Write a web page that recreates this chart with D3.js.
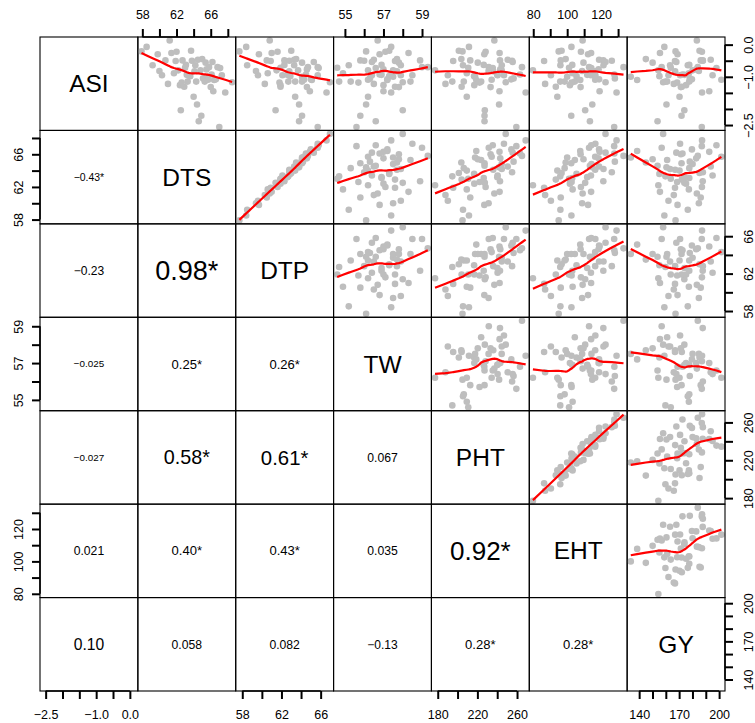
<!DOCTYPE html>
<html>
<head>
<meta charset="utf-8">
<script src="https://cdn.jsdelivr.net/npm/d3@7"></script>
<style>
  body { margin: 0; background: #fff; }
  svg { display: block; font-family: "Liberation Sans", Arial, Helvetica, sans-serif; }
</style>
</head>
<body>
<div class="container"></div>
<script>
// variable names (diagonal)
const varNames = ["ASI", "DTS", "DTP", "TW", "PHT", "EHT", "GY"];

// observations, one value per genotype
const asi = [-0.21, -0.07, -0.64, -0.30, -0.95, -0.49, -1.22, -0.26, -0.89, -0.22, -0.80, -2.04, -0.49, -1.31, -0.63, -1.15, -0.95, -0.98, -0.50, -1.62, -0.83, -1.15, -0.47, -2.38, -0.80, -0.45, -1.05, -1.15, -0.77, -1.00, -0.70, -1.32, -0.54, -1.10, -1.08, -0.70, -2.56, -0.95, -1.49, -1.17, 0.13, -0.72, -0.64, -1.26, -0.56, -0.82, -2.21, -0.93, -0.19, -1.18, -1.09, -1.86, -0.51, -0.73, -0.94, -1.45];
const dts = [57.9, 58.5, 59.2, 59.8, 60.3, 60.7, 61.0, 61.4, 61.7, 62.0, 62.2, 62.5, 62.7, 62.9, 63.1, 63.3, 63.4, 63.6, 63.8, 64.0, 64.1, 64.3, 64.5, 64.6, 64.8, 65.0, 65.1, 65.3, 65.5, 65.6, 65.8, 66.0, 66.2, 66.4, 66.6, 66.8, 67.0, 67.3, 67.7, 68.5, 61.2, 63.0, 64.2, 62.4, 65.4, 60.0, 64.9, 66.1, 63.7, 62.6, 65.7, 64.4, 61.9, 67.1, 63.2, 66.3];
const dtp = [57.7, 58.4, 58.5, 59.7, 59.6, 60.5, 60.3, 61.0, 60.6, 61.6, 61.5, 61.4, 62.3, 61.9, 62.3, 62.7, 62.1, 62.9, 62.8, 63.4, 62.8, 63.4, 63.3, 63.8, 63.7, 63.5, 64.2, 64.1, 64.6, 64.1, 64.7, 64.6, 65.3, 65.1, 65.0, 65.7, 65.7, 65.7, 66.6, 66.95, 60.8, 61.9, 63.3, 61.9, 64.1, 59.4, 64.1, 64.5, 63.0, 61.8, 64.3, 63.8, 60.9, 65.8, 62.6, 64.9];
const tw = [56.1, 57.4, 55.2, 56.8, 57.9, 55.8, 56.5, 58.3, 54.9, 57.1, 56.2, 58.0, 58.9, 57.6, 56.9, 54.7, 56.4, 57.3, 56.0, 56.2, 57.7, 55.3, 56.5, 56.6, 57.5, 57.7, 56.3, 58.4, 57.0, 57.5, 59.3, 57.8, 56.4, 57.2, 57.2, 59.0, 55.6, 58.5, 57.4, 58.0, 56.7, 54.6, 57.9, 57.0, 57.8, 57.5, 55.8, 56.8, 57.3, 55.7, 56.2, 56.1, 57.6, 56.6, 56.9, 57.0];
const pht = [205.0, 211.5, 205.5, 227.0, 190.2, 212.8, 187.8, 242.4, 209.3, 228.3, 177.3, 227.5, 242.8, 204.1, 226.4, 194.7, 240.4, 216.7, 255.0, 209.3, 236.0, 206.3, 250.6, 227.2, 244.5, 203.8, 256.5, 223.8, 243.1, 217.7, 265.0, 233.3, 255.6, 218.9, 254.2, 231.5, 259.3, 246.8, 268.7, 248.6, 237.1, 210.8, 244.6, 216.9, 220.4, 231.3, 227.2, 263.0, 201.3, 222.2, 234.4, 241.9, 195.6, 235.5, 240.1, 242.3];
const eht = [95.0, 102.5, 96.0, 112.3, 90.4, 96.2, 87.0, 114.1, 103.2, 108.1, 79.8, 110.6, 121.3, 93.3, 103.0, 95.9, 114.0, 105.5, 126.3, 94.2, 116.5, 98.5, 118.8, 113.4, 114.3, 99.1, 128.1, 104.5, 118.5, 100.0, 133.2, 107.9, 122.6, 107.7, 118.8, 112.9, 127.7, 116.6, 129.1, 122.6, 109.1, 101.1, 121.4, 101.6, 109.6, 108.8, 102.4, 127.8, 96.7, 102.6, 116.5, 114.8, 86.4, 114.2, 111.8, 119.1];
const gy = [167.3, 158.9, 176.5, 168.8, 162.0, 186.2, 166.0, 155.6, 177.3, 187.1, 154.4, 173.9, 187.7, 172.0, 177.6, 159.7, 195.1, 155.2, 187.8, 170.3, 167.0, 177.6, 193.7, 153.8, 180.1, 145.0, 178.0, 161.0, 182.8, 133.7, 184.0, 171.3, 167.9, 138.5, 179.6, 156.9, 187.0, 170.7, 187.2, 158.0, 183.3, 163.7, 163.2, 175.2, 150.1, 184.8, 171.8, 172.5, 185.3, 168.5, 201.7, 160.5, 166.9, 198.0, 174.0, 192.6];

// axis ticks and the tick labels that are printed
const asiTicks = [-2.5, -2, -1.5, -1, -0.5, 0],   asiLabels = [-2.5, -1, 0];
const dtsTicks = [58, 60, 62, 64, 66, 68],        dtsLabels = [58, 62, 66];
const dtpTicks = [58, 60, 62, 64, 66],            dtpLabels = [58, 62, 66];
const twTicks  = [55, 56, 57, 58, 59],            twLabels  = [55, 57, 59];
const phtTicks = [180, 200, 220, 240, 260],       phtLabels = [180, 220, 260];
const ehtTicks = [80, 90, 100, 110, 120, 130],    ehtLabels = [80, 100, 120];
const gyTicks  = [140, 150, 160, 170, 180, 190, 200], gyLabels = [140, 170, 200];

// correlation text in the lower panels, row by row
const corrDTS = ["\u22120.43*"];
const corrDTP = ["\u22120.23", "0.98*"];
const corrTW  = ["\u22120.025", "0.25*", "0.26*"];
const corrPHT = ["\u22120.027", "0.58*", "0.61*", "0.067"];
const corrEHT = ["0.021", "0.40*", "0.43*", "0.035", "0.92*"];
const corrGY  = ["0.10", "0.058", "0.082", "\u22120.13", "0.28*", "0.28*"];

const columns = [asi, dts, dtp, tw, pht, eht, gy];
const ticks = [asiTicks, dtsTicks, dtpTicks, twTicks, phtTicks, ehtTicks, gyTicks];
const labels = [asiLabels, dtsLabels, dtpLabels, twLabels, phtLabels, ehtLabels, gyLabels];
const corrRows = [[], corrDTS, corrDTP, corrTW, corrPHT, corrEHT, corrGY];

// R style lowess (f = 2/3, iter = 3)
function lowest(x, y, xs, nleft, nright, userw, rw) {
    const n = x.length;
    const range = x[n - 1] - x[0];
    const h = Math.max(xs - x[nleft], x[nright] - xs);
    const h9 = 0.999 * h, h1 = 0.001 * h;
    const w = new Array(n).fill(0);
    let a = 0, j = nleft;
    while (j < n) {
        const r = Math.abs(x[j] - xs);
        if (r <= h9) {
            w[j] = r <= h1 ? 1 : Math.pow(1 - Math.pow(r / h, 3), 3);
            if (userw) w[j] *= rw[j];
            a += w[j];
        } else if (x[j] > xs) break;
        j++;
    }
    const nrt = j - 1;
    if (a <= 0) return null;
    for (j = nleft; j <= nrt; j++) w[j] /= a;
    if (h > 0) {
        a = 0;
        for (j = nleft; j <= nrt; j++) a += w[j] * x[j];
        let b = xs - a, c = 0;
        for (j = nleft; j <= nrt; j++) c += w[j] * (x[j] - a) * (x[j] - a);
        if (Math.sqrt(c) > 0.001 * range) {
            b /= c;
            for (j = nleft; j <= nrt; j++) w[j] *= (b * (x[j] - a) + 1);
        }
    }
    let ys = 0;
    for (j = nleft; j <= nrt; j++) ys += w[j] * y[j];
    return ys;
}

function lowess(xv, yv, f = 2 / 3, iter = 3) {
    const n = xv.length;
    const order = d3.range(n).sort((a, b) => xv[a] - xv[b]);
    const x = order.map(i => xv[i]), y = order.map(i => yv[i]);
    const ns = Math.max(Math.min(Math.floor(f * n + 1e-7), n), 2);
    const delta = 0.01 * (x[n - 1] - x[0]);
    const fit = new Array(n).fill(0), rw = new Array(n).fill(1), res = new Array(n).fill(0);
    for (let it = 0; it <= iter; it++) {
        let nleft = 0, nright = ns - 1, last = -1, i = 0;
        while (true) {
            if (nright < n - 1) {
                const d1 = x[i] - x[nleft], d2 = x[nright + 1] - x[i];
                if (d1 > d2) { nleft++; nright++; continue; }
            }
            const v = lowest(x, y, x[i], nleft, nright, it > 0, rw);
            fit[i] = v === null ? y[i] : v;
            if (last < i - 1) {
                const denom = x[i] - x[last];
                for (let j = last + 1; j < i; j++) {
                    const alpha = (x[j] - x[last]) / denom;
                    fit[j] = alpha * fit[i] + (1 - alpha) * fit[last];
                }
            }
            last = i;
            const cut = x[last] + delta;
            for (i = last + 1; i < n; i++) {
                if (x[i] > cut) break;
                if (x[i] === x[last]) { fit[i] = fit[last]; last = i; }
            }
            i = Math.max(last + 1, i - 1);
            if (last >= n - 1) break;
        }
        for (let k = 0; k < n; k++) res[k] = y[k] - fit[k];
        if (it >= iter) break;
        const absr = res.map(Math.abs);
        const cmad = 6 * d3.median(absr);
        if (cmad < 1e-7 * d3.mean(absr)) break;
        const c9 = 0.999 * cmad, c1 = 0.001 * cmad;
        for (let k = 0; k < n; k++) {
            const r = absr[k];
            rw[k] = r <= c1 ? 1 : r <= c9 ? Math.pow(1 - Math.pow(r / cmad, 2), 2) : 0;
        }
    }
    return x.map((v, k) => [v, fit[k]]);
}

// layout
const width = 755, height = 723;
const gridLeft = 40, gridTop = 37, gridRight = 725, gridBottom = 691;
const nv = varNames.length;
const cellW = (gridRight - gridLeft) / nv, cellH = (gridBottom - gridTop) / nv;

const svg = d3.select(".container")
    .append("svg")
    .attr("width", width)
    .attr("height", height);

svg.append("rect").attr("width", width).attr("height", height).attr("fill", "#fff");

// one x and one y scale per variable, with R's 4% padding
const xs = columns.map((col, k) => {
    const ext = d3.extent(col), pad = (ext[1] - ext[0]) * 0.04;
    return d3.scaleLinear().domain([ext[0] - pad, ext[1] + pad])
        .range([gridLeft + k * cellW, gridLeft + (k + 1) * cellW]);
});
const ys = columns.map((col, k) => {
    const ext = d3.extent(col), pad = (ext[1] - ext[0]) * 0.04;
    return d3.scaleLinear().domain([ext[0] - pad, ext[1] + pad])
        .range([gridTop + (k + 1) * cellH, gridTop + k * cellH]);
});

const defs = svg.append("defs");

for (let i = 0; i < nv; i++) {
    for (let j = 0; j < nv; j++) {
        const x0 = gridLeft + j * cellW, y0 = gridTop + i * cellH;
        const cx = x0 + cellW / 2, cy = y0 + cellH / 2;
        const g = svg.append("g");

        if (i === j) {
            g.append("text")
                .attr("x", cx).attr("y", cy)
                .attr("dy", "0.35em")
                .attr("text-anchor", "middle")
                .attr("font-size", 24.5)
                .text(varNames[i]);
        } else if (i < j) {
            // upper panel: scatter + smoother
            const id = `clip-${i}-${j}`;
            defs.append("clipPath").attr("id", id)
                .append("rect").attr("x", x0).attr("y", y0).attr("width", cellW).attr("height", cellH);
            const pg = g.append("g").attr("clip-path", `url(#${id})`);
            const xv = columns[j], yv = columns[i];
            pg.selectAll("circle")
                .data(d3.range(xv.length))
                .enter()
                .append("circle")
                .attr("cx", k => xs[j](xv[k]))
                .attr("cy", k => ys[i](yv[k]))
                .attr("r", 3.3)
                .attr("fill", "#bebebe");
            const smooth = lowess(xv, yv);
            pg.append("path")
                .datum(smooth)
                .attr("fill", "none")
                .attr("stroke", "#ff0000")
                .attr("stroke-width", 2.2)
                .attr("stroke-linejoin", "round")
                .attr("d", d3.line().x(d => xs[j](d[0])).y(d => ys[i](d[1])));
        } else {
            // lower panel: correlation text
            const lbl = corrRows[i][j];
            const r = Math.abs(parseFloat(lbl.replace("\u2212", "-")));
            const t = g.append("text")
                .attr("x", cx).attr("y", cy)
                .attr("dy", "0.35em")
                .attr("text-anchor", "middle")
                .attr("font-size", 10)
                .text(lbl);
            const len = t.node().getComputedTextLength();
            const target = r >= 0.5 ? 64 * Math.pow(r, 0.6) : 30.5;
            t.attr("font-size", 10 * target / len);
        }

        g.append("rect")
            .attr("x", x0).attr("y", y0)
            .attr("width", cellW).attr("height", cellH)
            .attr("fill", "none")
            .attr("stroke", "#000")
            .attr("stroke-width", 1.1);
    }
}

// axes, alternating sides like pairs()
function fmtFor(k) {
    const f = k === 0 ? d3.format(".1f") : d3.format("d");
    return d => labels[k].includes(d) ? f(d) : "";
}

function styleAxis(g, k, orient) {
    g.attr("font-family", null).attr("font-size", null);
    g.select(".domain").remove();
    g.selectAll(".tick line").attr("stroke", "#000").attr("stroke-width", 2);
    const t = g.selectAll(".tick text")
        .attr("fill", "#000")
        .attr("font-size", 12.5)
        .attr("dy", "0.35em")
        .attr("text-anchor", "middle");
    if (orient === "top") t.attr("y", -22).attr("x", 0);
    if (orient === "bottom") t.attr("y", 24).attr("x", 0);
    if (orient === "left") t.attr("x", 0).attr("y", 0).attr("transform", "translate(-21,0) rotate(-90)");
    if (orient === "right") t.attr("x", 0).attr("y", 0).attr("transform", "translate(24,0) rotate(-90)");
    const tv = ticks[k];
    if (orient === "top" || orient === "bottom") {
        g.append("line").attr("x1", xs[k](tv[0])).attr("x2", xs[k](tv[tv.length - 1]))
            .attr("stroke", "#000").attr("stroke-width", 1.6);
    } else {
        g.append("line").attr("y1", ys[k](tv[0])).attr("y2", ys[k](tv[tv.length - 1]))
            .attr("stroke", "#000").attr("stroke-width", 1.6);
    }
}

for (let k = 0; k < nv; k++) {
    if (k % 2 === 1) {
        const g = svg.append("g").attr("transform", `translate(0,${gridTop})`)
            .call(d3.axisTop(xs[k]).tickValues(ticks[k]).tickSize(8).tickFormat(fmtFor(k)));
        styleAxis(g, k, "top");
        const gl = svg.append("g").attr("transform", `translate(${gridLeft},0)`)
            .call(d3.axisLeft(ys[k]).tickValues(ticks[k]).tickSize(8).tickFormat(fmtFor(k)));
        styleAxis(gl, k, "left");
    } else {
        const g = svg.append("g").attr("transform", `translate(0,${gridBottom})`)
            .call(d3.axisBottom(xs[k]).tickValues(ticks[k]).tickSize(8).tickFormat(fmtFor(k)));
        styleAxis(g, k, "bottom");
        const gr = svg.append("g").attr("transform", `translate(${gridRight},0)`)
            .call(d3.axisRight(ys[k]).tickValues(ticks[k]).tickSize(8).tickFormat(fmtFor(k)));
        styleAxis(gr, k, "right");
    }
}
</script>
</body>
</html>
